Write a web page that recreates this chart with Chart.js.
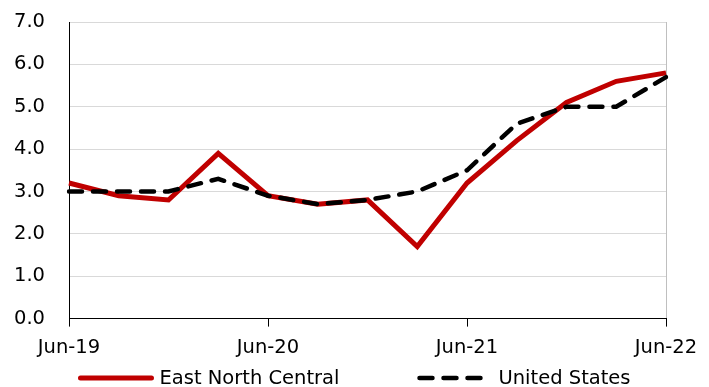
<!DOCTYPE html>
<html>
<head>
<meta charset="utf-8">
<script src="https://cdn.jsdelivr.net/npm/chart.js@4"></script>
<style>
  html, body { margin: 0; padding: 0; background: #fff; }
</style>
</head>
<body>
<canvas id="unemp-chart" width="709" height="387"></canvas>
<script>
const quarters = ['Jun-19', 'Sep-19', 'Dec-19', 'Mar-20', 'Jun-20', 'Sep-20', 'Dec-20',
                  'Mar-21', 'Jun-21', 'Sep-21', 'Dec-21', 'Mar-22', 'Jun-22']
const eastNorthCentral = [3.2, 2.9, 2.8, 3.9, 2.9, 2.7, 2.8, 1.7, 3.2, 4.2, 5.1, 5.6, 5.8]
const unitedStates = [3.0, 3.0, 3.0, 3.3, 2.9, 2.7, 2.8, 3.0, 3.5, 4.6, 5.0, 5.0, 5.7]

const FONT = '"DejaVu Sans", sans-serif'
const FONT_SIZE = 19.5

// legend with long line samples, drawn under the x axis
const lineLegend = {
    id: 'lineLegend',
    afterDraw(chart) {
        const ctx = chart.ctx
        const sample = 75, gap = 6, spacing = 78
        const items = chart.data.datasets
        ctx.save()
        ctx.font = FONT_SIZE + 'px ' + FONT
        const widths = items.map(d => ctx.measureText(d.label).width)
        const total = widths.reduce((s, w) => s + sample + gap + w, 0) + spacing * (items.length - 1)
        let x = (chart.width - total) / 2
        const y = chart.height - 9
        items.forEach((d, i) => {
            ctx.beginPath()
            ctx.strokeStyle = d.borderColor
            ctx.lineWidth = d.borderWidth
            ctx.lineCap = 'round'
            ctx.setLineDash(d.borderDash || [])
            ctx.moveTo(x + 2, y)
            ctx.lineTo(x + sample - 2, y)
            ctx.stroke()
            ctx.setLineDash([])
            ctx.fillStyle = '#000'
            ctx.textBaseline = 'middle'
            ctx.fillText(d.label, x + sample + gap, y + 1)
            x += sample + gap + widths[i] + spacing
        })
        ctx.restore()
    }
}

const ctx = document.querySelector('#unemp-chart')
new Chart(ctx, {
    type: 'line',
    data: {
        labels: quarters,
        datasets: [{
            label: 'East North Central',
            data: eastNorthCentral,
            borderColor: '#C00000',
            borderWidth: 5,
            lineTension: 0,
            pointRadius: 0,
            order: 1,
        }, {
            label: 'United States',
            data: unitedStates,
            borderColor: '#000',
            borderWidth: 4.5,
            borderDash: [13, 11],
            borderCapStyle: 'round',
            lineTension: 0,
            pointRadius: 0,
            order: 0,
        }]
    },
    options: {
        responsive: false,
        animation: false,
        layout: {
            padding: { top: 22, right: 43, bottom: 17, left: 0 }
        },
        plugins: {
            legend: { display: false },
            tooltip: { enabled: false },
        },
        scales: {
            x: {
                offset: false,
                border: { color: '#000', width: 1 },
                grid: {
                    drawOnChartArea: true,
                    color: c => c.index === quarters.length - 1 ? '#bfbfbf' : 'rgba(0,0,0,0)',
                    tickColor: c => c.index % 4 === 0 ? '#000' : 'rgba(0,0,0,0)',
                    tickLength: 8,
                },
                ticks: {
                    autoSkip: false,
                    maxRotation: 0,
                    padding: 10,
                    color: '#000',
                    font: { family: FONT, size: FONT_SIZE },
                    callback: (v, i) => i % 4 === 0 ? quarters[i] : '',
                },
            },
            y: {
                min: 0,
                max: 7,
                border: { color: '#000', width: 1 },
                grid: {
                    color: '#d9d9d9',
                    drawTicks: false,
                },
                ticks: {
                    stepSize: 1,
                    padding: 24,
                    color: '#000',
                    font: { family: FONT, size: FONT_SIZE },
                    callback: v => v.toFixed(1),
                },
                afterFit: scale => {
                    scale.width = 69
                    scale.paddingTop = 0
                    scale.paddingBottom = 0
                },
            }
        },
    },
    plugins: [lineLegend],
})
</script>
</body>
</html>
